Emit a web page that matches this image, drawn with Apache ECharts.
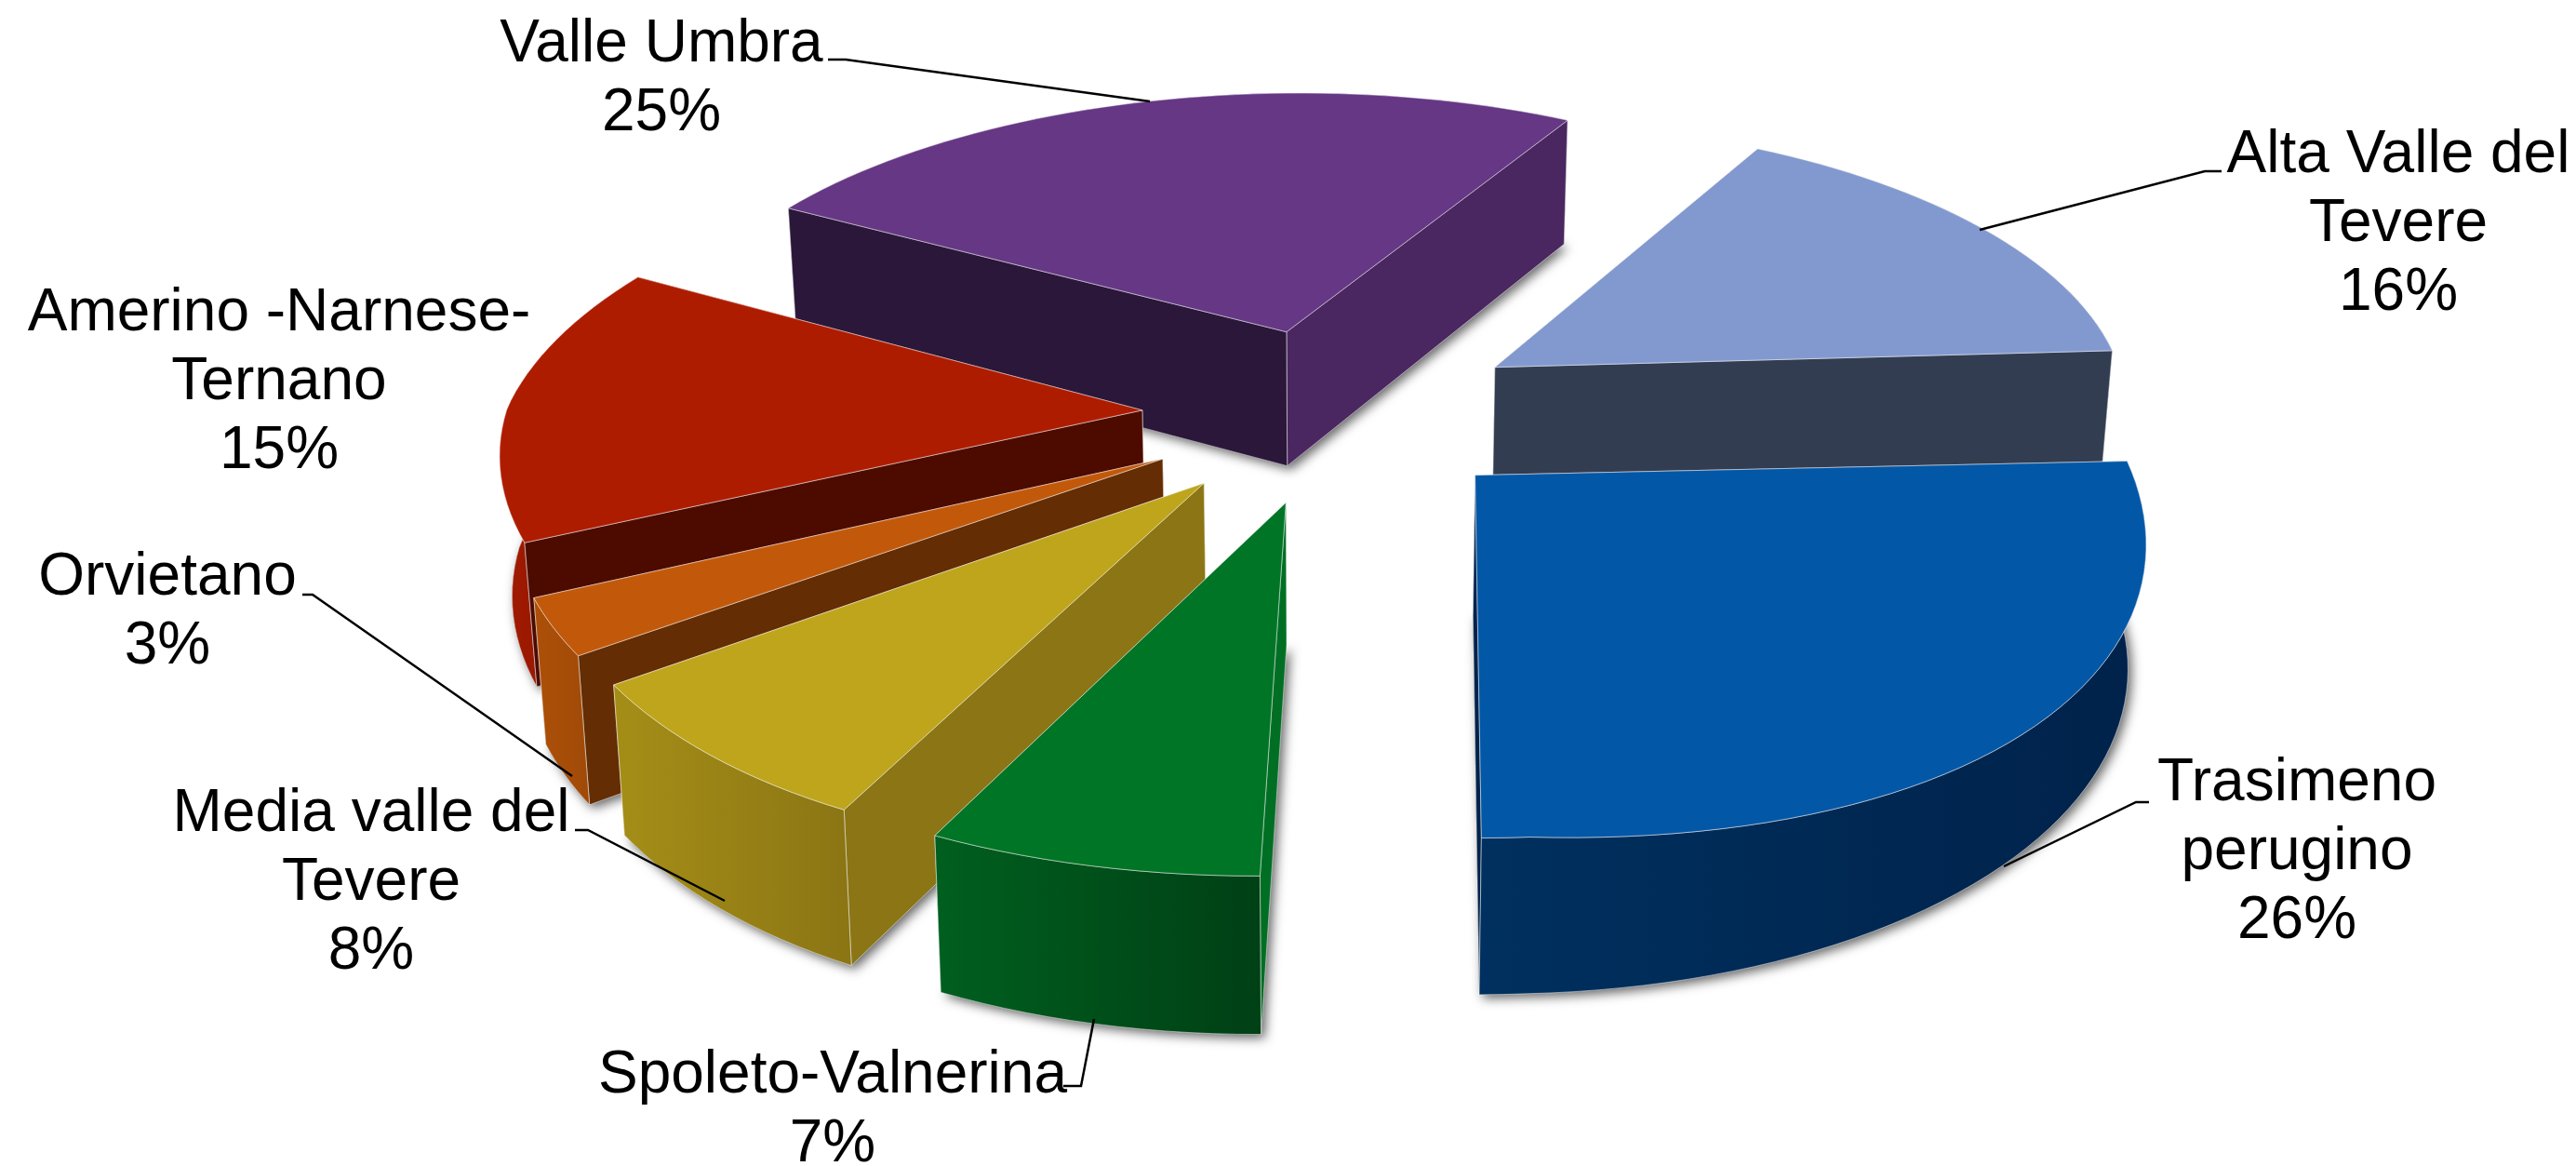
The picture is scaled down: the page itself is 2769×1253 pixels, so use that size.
<!DOCTYPE html>
<html>
<head>
<meta charset="utf-8">
<title>Umbria</title>
<script src="https://cdn.jsdelivr.net/npm/echarts@6/dist/echarts.min.js"></script>
<style>
html,body{margin:0;padding:0;background:#fff;}
#chart{width:2769px;height:1253px;}
</style>
</head>
<body>
<div id="chart"></div>
<script>
// values, clockwise from the first slice
var sliceNames = ['Alta Valle del\nTevere', 'Trasimeno\nperugino', 'Spoleto-Valnerina', 'Media valle del\nTevere', 'Orvietano', 'Amerino -Narnese-\nTernano', 'Valle Umbra'];
var sliceShares = [16, 26, 7, 8, 3, 15, 25];

// painted back to front
var paintOrder = [6, 0, 5, 4, 3, 2, 1];

var topColors = ['#8299d0', '#0357a7', '#007526', '#bfa51c', '#c2590a', '#ae1c00', '#663785'];
var startWallColors = ['#333d52', '#00224a', '#006f24', '#8b7515', '#642d03', '#4d0b00', '#2a1739'];
var endWallColors = ['#333d52', '#00224a', '#00501a', '#8b7515', '#642d03', '#4d0b00', '#4a2760'];
var rimColors = [['#333d52', '#333d52'], ['#00305f', '#00224a'], ['#005f1f', '#004015'], ['#a58e17', '#8b7514'], ['#ad5008', '#a04a08'], ['#a01a00', '#8a1500'], ['#2a1739', '#4a2760']];

var labelCenters = [[2578, 241], [2469, 916], [895, 1193], [399, 949], [180, 658], [300, 411], [711, 85]];
var leaderLines = [
    [[2388, 184], [2370, 184], [2128, 247]],
    [[2310, 862], [2296, 862], [2154, 931]],
    [[1143, 1167], [1162, 1167], [1176, 1095]],
    [[618, 892], [632, 892], [779, 968]],
    [[325, 639], [336, 639], [615, 834]],
    null,
    [[890, 64], [909, 64], [1236, 109]]
];

// view of the tilted plate
var cx = 1434, cy = 444, Rx = 688, Ry = 315, persp = 0.14, shear = 0.08, tilt = 5;
var explode = 0.3;
var firstAngle = 28;
var unit = 100, unitCx = 200, unitCy = 200;

var rows = [];
var cum = [0];
for (var i = 0; i < sliceShares.length; i++) {
    cum.push(cum[i] + sliceShares[i]);
}
for (var j = 0; j < paintOrder.length; j++) {
    var k = paintOrder[j];
    rows.push([cum[k], cum[k + 1], k]);
}

function project(X, Y, down) {
    var w = 1 + persp * Y;
    var sx = Rx * X / w;
    var sy = -Ry * Y / w;
    var px = cx + sx - shear * sy;
    var py = cy + sy + tilt * X;
    // the reference's plate is not a true circle: near left pulled in, near right pushed out
    px += 60 * Math.max(0, -X - 0.6) * Math.max(0, -Y) + 20 * Math.max(0, -X - 1);
    var bulge = Math.max(0, X - 0.3) * Math.max(0, -Y);
    px += 20 * bulge;
    py += 45 * bulge;
    if (down) {
        px = cx + (px - cx) * 0.985 - 20 * bulge;
        py = py + 148 * Math.pow(w, -0.7) - 35 * bulge;
    }
    return [px, py];
}

function renderSlice(params, api) {
    var a0 = api.value(0), a1 = api.value(1), idx = api.value(2);
    var d = api.coord([explode, (a0 + a1) / 2]);
    var dx = (d[0] - unitCx) / unit, dy = (unitCy - d[1]) / unit;

    function pt(r, a, down) {
        var c = api.coord([r, a]);
        return project(dx + (c[0] - unitCx) / unit, dy + (unitCy - c[1]) / unit, down);
    }

    var topRim = [], lowRim = [];
    var n = Math.max(8, Math.round((a1 - a0) * 2));
    for (var s = 0; s <= n; s++) {
        var a = a0 + (a1 - a0) * s / n;
        topRim.push(pt(1, a, false));
        lowRim.push(pt(1, a, true));
    }
    var apexTop = pt(0, a0, false), apexLow = pt(0, a0, true);
    var edge = 'rgba(255,255,255,0.5)';

    function poly(points, fill, extra) {
        var style = {fill: fill, stroke: edge, lineWidth: 1};
        for (var key in extra) {
            style[key] = extra[key];
        }
        return {type: 'polygon', shape: {points: points}, style: style};
    }

    var shadow = poly([apexLow].concat(lowRim), '#555', {
        stroke: null,
        shadowBlur: 12,
        shadowOffsetX: 4,
        shadowOffsetY: 4,
        shadowColor: 'rgba(0,0,0,0.6)'
    });
    var startWall = poly([apexTop, topRim[0], lowRim[0], apexLow], startWallColors[idx]);
    var endWall = poly([apexTop, topRim[n], lowRim[n], apexLow], endWallColors[idx]);
    var rimWall = poly(topRim.concat(lowRim.slice().reverse()), new echarts.graphic.LinearGradient(0, 0, 1, 0, [
        {offset: 0, color: rimColors[idx][0]},
        {offset: 1, color: rimColors[idx][1]}
    ]));
    var top = poly([apexTop].concat(topRim), topColors[idx]);

    // flat wall whose rim end sits lower on the page is the nearer one
    var flat = topRim[0][1] > topRim[n][1] ? [endWall, startWall] : [startWall, endWall];
    // rim in front goes after the flat walls, rim at the back before them
    var mid = api.coord([1, (a0 + a1) / 2]);
    var walls = mid[1] > unitCy ? flat.concat([rimWall]) : [rimWall].concat(flat);

    return {type: 'group', children: [shadow].concat(walls, [top])};
}

function renderLabel(params, api) {
    var idx = api.value(2);
    var children = [];
    if (leaderLines[idx]) {
        children.push({
            type: 'polyline',
            shape: {points: leaderLines[idx]},
            style: {stroke: '#000', lineWidth: 2.5, fill: null}
        });
    }
    children.push({
        type: 'text',
        x: labelCenters[idx][0],
        y: labelCenters[idx][1],
        style: {
            text: sliceNames[idx] + '\n' + sliceShares[idx] + '%',
            fill: '#000',
            font: '64px "Liberation Sans", Arial, sans-serif',
            lineHeight: 74,
            align: 'center',
            verticalAlign: 'middle'
        }
    });
    return {type: 'group', children: children};
}

var myChart = echarts.init(document.getElementById('chart'));
var option = {
    animation: false,
    backgroundColor: '#ffffff',
    polar: {center: [unitCx, unitCy], radius: [0, unit]},
    angleAxis: {type: 'value', min: 0, max: 100, startAngle: 90 - firstAngle, show: false},
    radiusAxis: {type: 'value', min: 0, max: 1, show: false},
    series: [
        {type: 'custom', coordinateSystem: 'polar', renderItem: renderSlice, data: rows, silent: true, clip: false, z: 2},
        {type: 'custom', coordinateSystem: 'polar', renderItem: renderLabel, data: rows, silent: true, clip: false, z: 3}
    ]
};
myChart.setOption(option);
</script>
</body>
</html>
